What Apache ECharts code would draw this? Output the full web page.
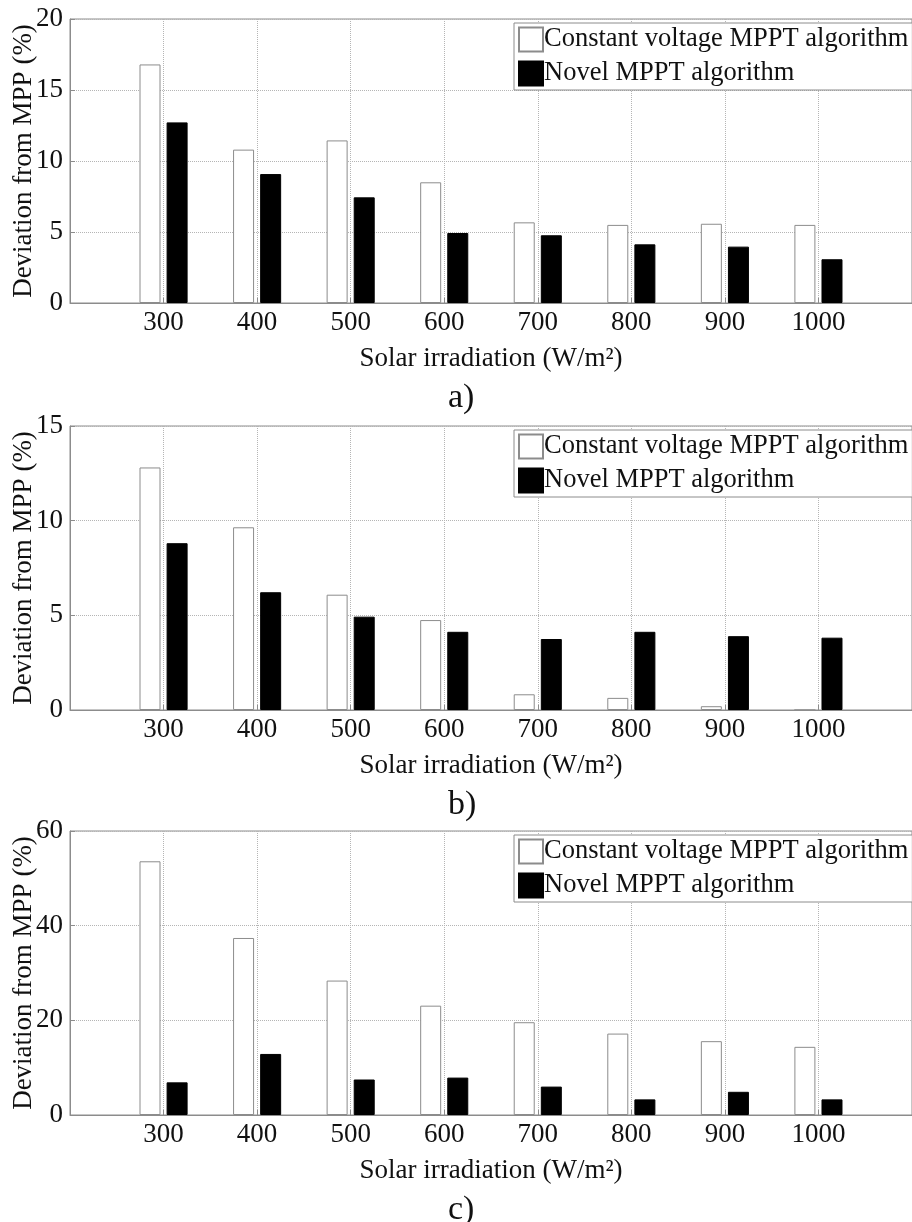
<!DOCTYPE html>
<html>
<head>
<meta charset="utf-8">
<script src="https://cdn.jsdelivr.net/npm/echarts@6/dist/echarts.min.js"></script>
<style>
html,body{margin:0;padding:0;background:#fff;}
#chart{width:912px;height:1222px;}
</style>
</head>
<body>
<div id="chart"></div>
<script>
// Categories (solar irradiation, W/m2)
const irradiation = [300, 400, 500, 600, 700, 800, 900, 1000];
const seriesNames = ['Constant voltage MPPT algorithm', 'Novel MPPT algorithm'];
const panelLabels = ['a)', 'b)', 'c)'];
const yAxisMax = [20, 15, 60];
const yAxisInterval = [5, 5, 20];

// Panel a
const constantA = [16.8, 10.8, 11.45, 8.5, 5.68, 5.5, 5.58, 5.5];
const novelA    = [12.72, 9.08, 7.44, 4.93, 4.77, 4.13, 3.97, 3.08];
// Panel b
const constantB = [12.81, 9.65, 6.09, 4.75, 0.83, 0.64, 0.2, 0];
const novelB    = [8.81, 6.22, 4.93, 4.13, 3.75, 4.13, 3.9, 3.82];
// Panel c
const constantC = [53.6, 37.4, 28.4, 23.1, 19.6, 17.2, 15.6, 14.4];
const novelC    = [6.9, 12.9, 7.5, 7.9, 6.0, 3.3, 4.9, 3.3];

const constantData = [constantA, constantB, constantC];
const novelData = [novelA, novelB, novelC];

const FONT = 'Liberation Serif';
const gridTops = [19, 426, 831];
const gridH = 284;

const grids = [], xAxes = [], yAxes = [], series = [], legends = [], graphics = [];
for (let i = 0; i < 3; i++) {
  grids.push({left: 70, right: 0, top: gridTops[i], height: gridH, show: true,
    borderColor: '#8c8c8c', borderWidth: 1, backgroundColor: '#fff',
    containLabel: false, outerBoundsMode: 'none'});
  xAxes.push({
    type: 'value', gridIndex: i, min: 200, max: 1100, interval: 100,
    name: 'Solar irradiation (W/m²)', nameLocation: 'middle', nameGap: 42,
    nameMoveOverlap: false,
    nameTextStyle: {fontFamily: FONT, fontSize: 27, color: '#111'},
    axisLine: {show: true, onZero: false, lineStyle: {color: '#8c8c8c', width: 1}},
    axisTick: {show: true, inside: true, length: 5, lineStyle: {color: '#8c8c8c'}},
    axisLabel: {fontFamily: FONT, fontSize: 27, color: '#111', margin: 6,
      formatter: v => (v === 200 || v === 1100) ? '' : String(v)},
    splitLine: {show: true, lineStyle: {type: [1, 1], color: '#b5b5b5', width: 1}}
  });
  yAxes.push({
    type: 'value', gridIndex: i, min: 0, max: yAxisMax[i], interval: yAxisInterval[i],
    name: 'Deviation from MPP (%)', nameLocation: 'middle', nameGap: 33, nameRotate: 90,
    nameMoveOverlap: false,
    nameTextStyle: {fontFamily: FONT, fontSize: 27, color: '#111'},
    axisLine: {show: true, lineStyle: {color: '#8c8c8c', width: 1}},
    axisTick: {show: true, inside: true, length: 5, lineStyle: {color: '#8c8c8c'}},
    axisLabel: {fontFamily: FONT, fontSize: 27, color: '#111', margin: 7},
    splitLine: {show: true, lineStyle: {type: [1, 1], color: '#b5b5b5', width: 1}}
  });
  series.push({
    name: seriesNames[0], type: 'bar', xAxisIndex: i, yAxisIndex: i,
    barWidth: 21, barGap: '29%',
    itemStyle: {color: '#ffffff', borderColor: '#8c8c8c', borderWidth: 1},
    data: irradiation.map((x, k) => [x, constantData[i][k]])
  });
  series.push({
    name: seriesNames[1], type: 'bar', xAxisIndex: i, yAxisIndex: i,
    barWidth: 21, barGap: '29%',
    itemStyle: {color: '#000000', borderColor: '#000', borderWidth: 1},
    data: irradiation.map((x, k) => [x, novelData[i][k]])
  });
  legends.push({
    data: seriesNames, orient: 'vertical', left: 514, top: gridTops[i] + 4,
    icon: 'rect', itemWidth: 24, itemHeight: 24, itemGap: 7,
    padding: [3, 4, 3, 4], borderColor: '#8c8c8c', borderWidth: 1, backgroundColor: '#fff',
    selectedMode: false,
    textStyle: {fontFamily: FONT, fontSize: 26.5, color: '#111', padding: [0, 0, 0, -4]}
  });
  graphics.push({
    type: 'text', left: 448, top: gridTops[i] + gridH + 78,
    style: {text: panelLabels[i], font: '34px "Liberation Serif"', fill: '#111'}
  });
}

const chart = echarts.init(document.getElementById('chart'), null, {renderer: 'canvas'});
chart.setOption({
  animation: false,
  backgroundColor: '#fff',
  grid: grids, xAxis: xAxes, yAxis: yAxes, series: series, legend: legends,
  graphic: graphics
});
</script>
</body>
</html>
